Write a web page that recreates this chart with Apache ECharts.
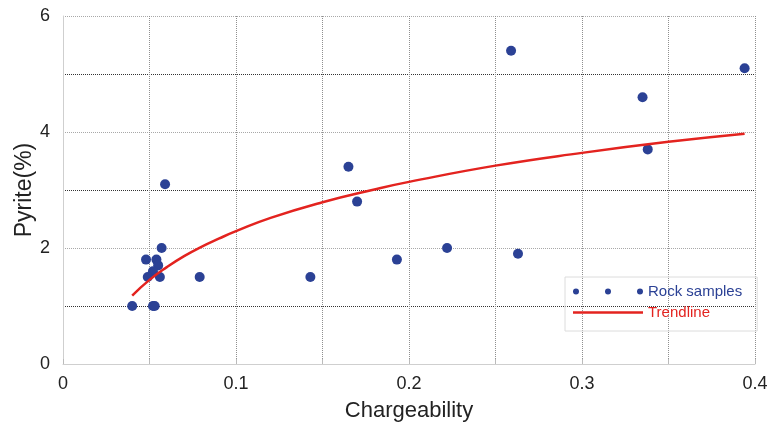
<!DOCTYPE html>
<html>
<head>
<meta charset="utf-8">
<style>
  html, body { margin: 0; padding: 0; background: #fff; }
  #chart { width: 771px; height: 429px; }
</style>
<script src="https://cdn.jsdelivr.net/npm/echarts@6/dist/echarts.min.js"></script>
</head>
<body>
<div id="chart"></div>
<script>
// Rock samples: [chargeability, pyrite %]
const chargeability = [0.040, 0.052, 0.053, 0.048, 0.054, 0.057, 0.055, 0.052, 0.049, 0.056,
                       0.059, 0.079, 0.143, 0.165, 0.170, 0.193, 0.222, 0.263, 0.259, 0.335, 0.338, 0.394];
const pyrite = [1.0, 1.0, 1.0, 1.8, 1.8, 2.0, 1.7, 1.6, 1.5, 1.5,
                3.1, 1.5, 1.5, 3.4, 2.8, 1.8, 2.0, 1.9, 5.4, 4.6, 3.7, 5.1];

// Trendline
const trendX = [0.040, 0.050, 0.060, 0.070, 0.080, 0.090, 0.100, 0.120, 0.150, 0.180, 0.200, 0.250, 0.300, 0.350, 0.394];
const trendY = [1.18, 1.45, 1.67, 1.86, 2.02, 2.16, 2.29, 2.52, 2.79, 3.01, 3.14, 3.42, 3.64, 3.83, 3.97];

const xTicks = [0, 0.1, 0.2, 0.3, 0.4];
const yTicks = [0, 2, 4, 6];

const BLUE = '#2b4195';
const RED = '#e3231f';
const FONT = '"Liberation Sans", Arial, sans-serif';

const samples = chargeability.map((c, i) => [c, pyrite[i]]);
const trend = trendX.map((c, i) => [c, trendY[i]]);

// legend glyphs: three marker dots, and a plain stroke for the fitted curve
const dotsIcon = 'path://M0,3a3,3 0 1,0 6,0a3,3 0 1,0 -6,0M32,3a3,3 0 1,0 6,0a3,3 0 1,0 -6,0M64,3a3,3 0 1,0 6,0a3,3 0 1,0 -6,0';
const strokeIcon = 'path://M0,0h70v2.6h-70z';

const chart = echarts.init(document.getElementById('chart'), null, { renderer: 'canvas' });
chart.setOption({
  animation: false,
  backgroundColor: '#fff',
  textStyle: { fontFamily: FONT },
  grid: { left: 63, right: 16, top: 16, bottom: 65, containLabel: false },
  legend: {
    orient: 'vertical',
    left: 565,
    top: 277,
    padding: [7, 15, 11, 8],
    itemGap: 6,
    itemWidth: 70,
    itemHeight: 14,
    symbolKeepAspect: true,
    borderColor: '#dcdcdc',
    borderWidth: 1,
    textStyle: { fontFamily: FONT, fontSize: 15 },
    data: [
      { name: 'Rock samples', icon: dotsIcon, itemStyle: { color: BLUE, opacity: 1 }, textStyle: { color: BLUE } },
      { name: 'Trendline', icon: strokeIcon, itemStyle: { color: RED, opacity: 1 }, textStyle: { color: RED } }
    ]
  },
  xAxis: {
    type: 'value',
    min: 0,
    max: 0.4,
    interval: 0.05,
    name: 'Chargeability',
    nameLocation: 'middle',
    nameGap: 36,
    nameTextStyle: { fontSize: 22, color: '#222', fontFamily: FONT },
    axisLine: { lineStyle: { color: '#cfcfcf' } },
    axisTick: { show: true, inside: true, length: 5, lineStyle: { color: '#bbb' } },
    axisLabel: {
      fontSize: 18, color: '#222', margin: 11,
      formatter: v => {
        const r = Math.round(v * 100) / 100;
        return xTicks.some(t => Math.abs(t - r) < 1e-9) ? String(r) : '';
      }
    },
    splitLine: { show: true, lineStyle: { color: '#8f8f8f', type: [1, 1], width: 1 } }
  },
  yAxis: {
    type: 'value',
    min: 0,
    max: 6,
    interval: 1,
    name: 'Pyrite(%)',
    nameLocation: 'middle',
    nameGap: 27,
    nameMoveOverlap: false,
    nameTextStyle: { fontSize: 23, color: '#222', fontFamily: FONT },
    axisLine: { show: true, lineStyle: { color: '#cfcfcf' } },
    axisTick: { show: false },
    axisLabel: {
      fontSize: 18, color: '#222', margin: 13,
      formatter: v => (yTicks.indexOf(v) >= 0 ? String(v) : '')
    },
    splitLine: { show: true, lineStyle: { color: ['#a8a8a8', '#333'], type: [1, 1], width: 1 } }
  },
  series: [
    {
      name: 'Rock samples',
      type: 'scatter',
      data: samples,
      symbol: 'circle',
      symbolSize: 10,
      itemStyle: { color: BLUE, opacity: 1 },
      z: 3
    },
    {
      name: 'Trendline',
      type: 'line',
      data: trend,
      smooth: true,
      showSymbol: false,
      symbol: 'none',
      lineStyle: { color: RED, width: 2.5 },
      itemStyle: { color: RED },
      z: 4
    }
  ]
});
</script>
</body>
</html>
